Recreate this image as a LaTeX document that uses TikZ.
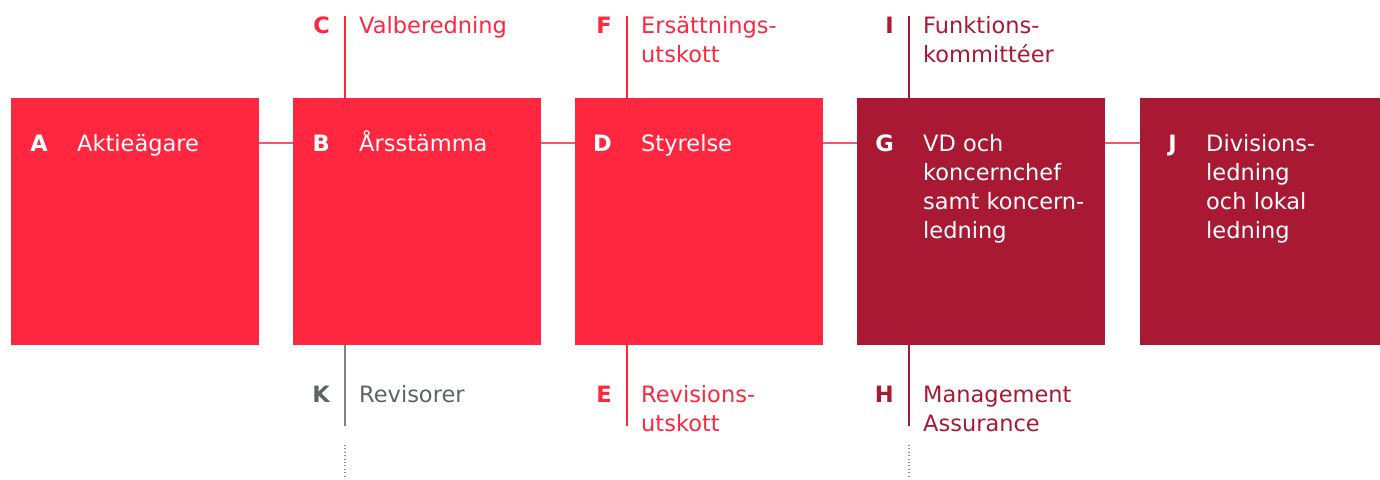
\documentclass[tikz,border=0pt]{standalone}
\usepackage{fontspec}
\setmainfont{DejaVu Sans}
\usetikzlibrary{calc}
\definecolor{cred}{HTML}{FF2640}
\definecolor{cdark}{HTML}{A91934}
\definecolor{cgray}{HTML}{5F6368}
\definecolor{cgrayline}{HTML}{808287}
\definecolor{cdots}{HTML}{8A8C90}
\definecolor{clink}{HTML}{EE5A6A}
\newcommand\mylines[1]{\begin{tabular}[t]{@{}l@{}}#1\end{tabular}}
\begin{document}
\begin{tikzpicture}[x=1pt,y=-1pt,
  box/.style={draw=none, fill=#1, minimum width=248pt, minimum height=247pt, anchor=north west, inner sep=0pt},
  letter/.style={anchor=base east, inner sep=0pt, font=\fontsize{22.5}{29}\selectfont\bfseries},
  lbl/.style={anchor=base west, inner sep=0pt, font=\fontsize{22.5}{29}\selectfont},
  link/.style={draw=clink, line width=1.4pt},
  vline/.style={line width=1.4pt},
  dotline/.style={draw=cdots, line width=1.1pt, dash pattern=on 1pt off 2.4pt}]
\useasboundingbox (0,0) rectangle (1380,479);
% boxes
\node[box=cred] (A) at (11,98) {};
\node[box=cred] (B) at (293,98) {};
\node[box=cred] (D) at (575,98) {};
\node[box=cdark] (G) at (857,98) {};
\node[box=cdark, minimum width=240pt] (J) at (1140,98) {};
% connectors between boxes
\draw[link] ($(A.north east)+(0,45)$) -- ($(B.north west)+(0,45)$);
\draw[link] ($(B.north east)+(0,45)$) -- ($(D.north west)+(0,45)$);
\draw[link] ($(D.north east)+(0,45)$) -- ($(G.north west)+(0,45)$);
\draw[link] ($(G.north east)+(0,45)$) -- ($(J.north west)+(0,45)$);
% box texts
\node[letter,text=white] (lA) at (48,151) {A};
\node[lbl,text=white] (tA) at (77,151) {Aktieägare};
\node[letter,text=white] (lB) at (330,151) {B};
\node[lbl,text=white] (tB) at (359,151) {Årsstämma};
\node[letter,text=white] (lD) at (612,151) {D};
\node[lbl,text=white] (tD) at (641,151) {Styrelse};
\node[letter,text=white] (lG) at (894,151) {G};
\node[lbl,text=white] (tG) at (923,151) {\mylines{VD och\\koncernchef\\samt koncern-\\ledning}};
\node[letter,text=white] (lJ) at (1177,151) {J};
\node[lbl,text=white] (tJ) at (1206,151) {\mylines{Divisions-\\ledning\\och lokal\\ledning}};
% top committees
\coordinate (cC) at (345,16);
\coordinate (cF) at (627,16);
\coordinate (cI) at (909,16);
\draw[vline,draw=cred] (cC) -- (cC |- B.north);
\draw[vline,draw=cred] (cF) -- (cF |- D.north);
\draw[vline,draw=cdark] (cI) -- (cI |- G.north);
\node[letter,text=cred] (lC) at (330,33) {C};
\node[lbl,text=cred] (tC) at (359,33) {Valberedning};
\node[letter,text=cred] (lF) at (612,33) {F};
\node[lbl,text=cred] (tF) at (641,33) {\mylines{Ersättnings-\\utskott}};
\node[letter,text=cdark] (lI) at (894,33) {I};
\node[lbl,text=cdark] (tI) at (923,33) {\mylines{Funktions-\\kommittéer}};
% bottom
\coordinate (cK) at (345,426);
\coordinate (cE) at (627,426);
\coordinate (cH) at (909,426);
\draw[vline,draw=cgrayline] (B.south -| cK) -- (cK);
\draw[vline,draw=cred] (D.south -| cE) -- (cE);
\draw[vline,draw=cdark] (G.south -| cH) -- (cH);
\coordinate (dK1) at (345,445);
\coordinate (dK2) at (345,479);
\coordinate (dH1) at (909,445);
\coordinate (dH2) at (909,479);
\draw[dotline] (dK1) -- (dK2);
\draw[dotline] (dH1) -- (dH2);
\node[letter,text=cgray] (lK) at (330,402) {K};
\node[lbl,text=cgray] (tK) at (359,402) {Revisorer};
\node[letter,text=cred] (lE) at (612,402) {E};
\node[lbl,text=cred] (tE) at (641,402) {\mylines{Revisions-\\utskott}};
\node[letter,text=cdark] (lH) at (894,402) {H};
\node[lbl,text=cdark] (tH) at (923,402) {\mylines{Management\\Assurance}};
\end{tikzpicture}
\end{document}
